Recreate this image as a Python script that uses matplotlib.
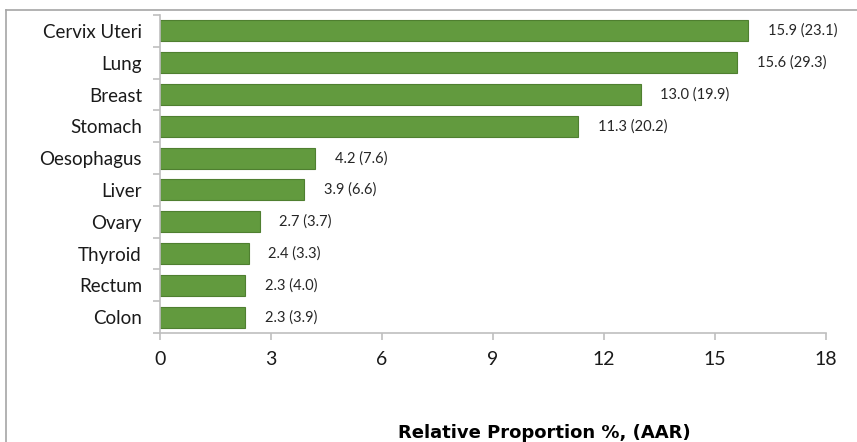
import matplotlib
matplotlib.use("Agg")
import matplotlib.pyplot as plt
from matplotlib.lines import Line2D

# cancer sites, relative proportion % and age-adjusted rate
sites = ["Cervix Uteri", "Lung", "Breast", "Stomach", "Oesophagus",
         "Liver", "Ovary", "Thyroid", "Rectum", "Colon"]
proportion = [15.9, 15.6, 13.0, 11.3, 4.2, 3.9, 2.7, 2.4, 2.3, 2.3]
aar = [23.1, 29.3, 19.9, 20.2, 7.6, 6.6, 3.7, 3.3, 4.0, 3.9]
xticks = [0, 3, 6, 9, 12, 15, 18]

plt.rcParams["font.family"] = ["Lato", "DejaVu Sans"]

fig = plt.figure(figsize=(8.57, 4.42), dpi=100)
ax = fig.add_axes([0.1867, 0.2466, 0.7771, 0.7194])

ypos = list(range(len(sites)))[::-1]
ax.barh(ypos, proportion, height=0.66, color="#629A3E",
        edgecolor="#4F7F30", linewidth=0.8)

for y, p, a in zip(ypos, proportion, aar):
    ax.annotate(f"{p:.1f} ({a:.1f})", xy=(p, y), xytext=(14, 0),
                textcoords="offset points", va="center", ha="left",
                fontsize=10.5, color="#262626")

ax.set_xlim(0, 18)
ax.set_ylim(-0.5, len(sites) - 0.5)
ax.set_xticks(xticks)
ax.set_yticks(ypos)
ax.set_yticklabels(sites)
ax.set_yticks([y - 0.5 for y in range(len(sites) + 1)], minor=True)

for s in ["top", "right"]:
    ax.spines[s].set_visible(False)
for s in ["left", "bottom"]:
    ax.spines[s].set_color("#BFBFBF")
    ax.spines[s].set_linewidth(1.2)

ax.tick_params(axis="y", which="major", length=0, pad=13, labelsize=13.5,
               labelcolor="#1a1a1a")
ax.tick_params(axis="y", which="minor", length=5, color="#BFBFBF", width=1.2)
ax.tick_params(axis="x", length=5, color="#BFBFBF", width=1.2, pad=8,
               labelsize=14, labelcolor="#1a1a1a")

fig.text(0.635, 0.008, "Relative Proportion %, (AAR)", ha="center",
         va="baseline", fontsize=13, fontweight="bold", color="#000000",
         family="DejaVu Sans")

# outer chart frame (top and left edges)
fig.add_artist(Line2D([0.007, 1.0], [0.977, 0.977], transform=fig.transFigure,
                      color="#A6A6A6", linewidth=1.2))
fig.add_artist(Line2D([0.007, 0.007], [0.0, 0.977], transform=fig.transFigure,
                      color="#A6A6A6", linewidth=1.2))

fig.savefig("out.png", dpi=100)
